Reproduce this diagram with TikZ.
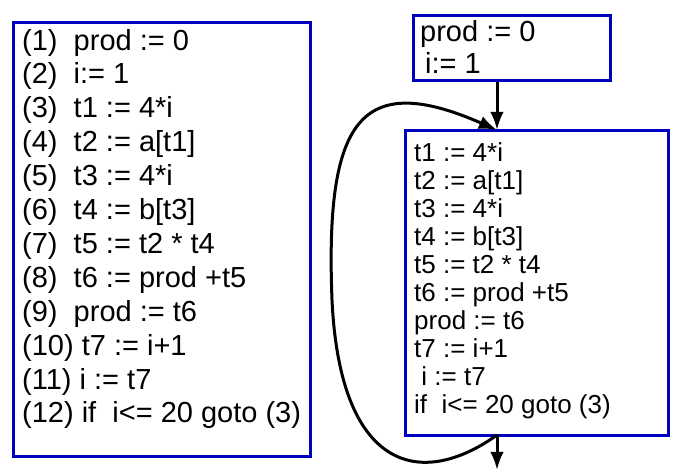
\documentclass[tikz,border=0pt]{standalone}
\usepackage{fontspec}
\setmainfont{Liberation Sans}
\usetikzlibrary{arrows.meta}

\begin{document}
\begin{tikzpicture} [x=1pt, y=-1pt, font=\fontsize{29}{29}\selectfont,
    box/.style={draw=blue!75!black, line width=3pt},
    code/.style={anchor=base west, inner sep=0pt}]
    \useasboundingbox (0,0) rectangle (693,472);

    % three-address code
    \draw[box] (13,22) rectangle (310,456);
    \foreach \txt [count=\i] in {(1)~~prod := 0, (2)~~i:= 1, (3)~~t1 := 4*i,
            (4)~~t2 := a[t1], (5)~~t3 := 4*i, (6)~~t4 := b[t3], (7)~~t5 := t2 * t4,
            (8)~~t6 := prod +t5, (9)~~prod := t6, (10) t7 := i+1, (11) i := t7,
            (12) if~~i<= 20 goto (3)}
        \node[code] (l\i) at (22, 50 + 33.9*\i - 33.9) {\txt};

    % basic blocks
    \node[box, minimum width=197pt, minimum height=65pt] (b1) at (511.5,47.5) {};
    \node[code] (p1) at (420,41) {prod := 0};
    \node[code] (p2) at (425,73) {i:= 1};

    \node[box, minimum width=263pt, minimum height=305pt] (b2) at (536.5,282.5) {};
    \foreach \txt [count=\i] in {t1 := 4*i, t2 := a[t1], t3 := 4*i, t4 := b[t3],
            t5 := t2 * t4, t6 := prod +t5, prod := t6, t7 := i+1, ~i := t7,
            if~~i<= 20 goto (3)}
        \node[code, font=\fontsize{26}{26}\selectfont] (r\i) at (414, 161 + 28.1*\i - 28.1) {\txt};

    \coordinate (in) at (497,130);
    \coordinate (out) at (497,435);
    \coordinate (exit) at (497,470);

    \begin{scope}[->, >={Latex[scale=1.1]}, line width=3pt]
        \draw (b1.south -| in) -- (in);
        \draw (out) -- (exit);
        \draw (out) .. controls (420,490) and (340,470) .. (332,300)
            .. controls (325,120) and (360,70) .. (in);
    \end{scope}
\end{tikzpicture}
\end{document}
